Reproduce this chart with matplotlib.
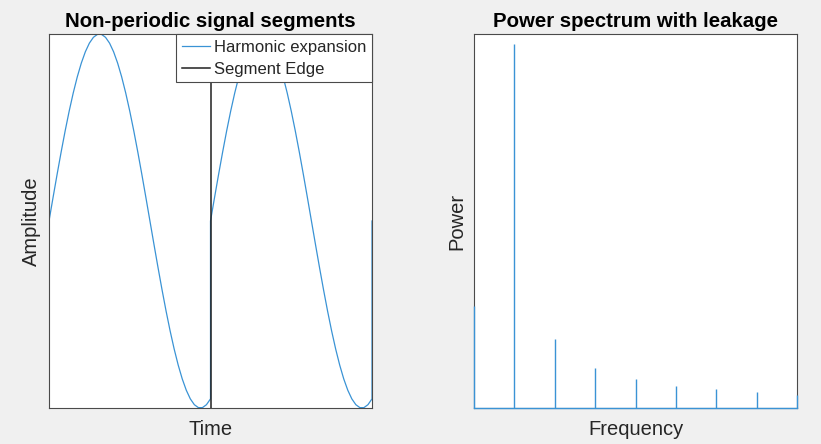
import numpy as np
import matplotlib
matplotlib.use("Agg")
import matplotlib.pyplot as plt

plt.rcParams['font.family'] = ['Liberation Sans', 'DejaVu Sans']

# ---- data ----
# one signal segment (0.8 cycles of the harmonic), sampled at 41 points over t in [0, 1]
segment_values = [0.0, 0.1253, 0.2487, 0.3681, 0.4818, 0.5878, 0.6845, 0.7705, 0.8443,
                  0.9048, 0.9511, 0.9823, 0.9980, 0.9980, 0.9823, 0.9511, 0.9048, 0.8443,
                  0.7705, 0.6845, 0.5878, 0.4818, 0.3681, 0.2487, 0.1253, 0.0, -0.1253,
                  -0.2487, -0.3681, -0.4818, -0.5878, -0.6845, -0.7705, -0.8443, -0.9048,
                  -0.9511, -0.9823, -0.9980, -0.9980, -0.9823, -0.9511]
n_segments = 2
segment_edges = [1.0]
next_segment_start = 0.0

freq_bins = [0, 1, 2, 3, 4, 5, 6, 7, 8]
power = [0.280, 1.000, 0.190, 0.111, 0.080, 0.061, 0.051, 0.043, 0.036]

titles = ["Non-periodic signal segments", "Power spectrum with leakage"]
xlabels = ["Time", "Frequency"]
ylabels = ["Amplitude", "Power"]
legend_labels = ["Harmonic expansion", "Segment Edge"]

# ---- build signal ----
seg_t = np.linspace(0.0, 1.0, len(segment_values))
t_all, y_all = [], []
for s in range(n_segments):
    t_all.extend(list(seg_t + s))
    y_all.extend(segment_values)
t_all.append(float(n_segments))
y_all.append(next_segment_start)

blue = '#3a93d5'
axcol = '#4a4a4a'
txtcol = '#262626'

fig = plt.figure(figsize=(8.21, 4.44), dpi=100, facecolor='#f0f0f0')
W, H = 821, 444
ax1 = fig.add_axes([49 / W, 1 - 408 / H, 323 / W, 374 / H])
ax2 = fig.add_axes([474 / W, 1 - 408 / H, 323 / W, 374 / H])

# left plot
l1, = ax1.plot(t_all, y_all, color=blue, lw=0.9, label=legend_labels[0], zorder=2)
l2 = None
for e in segment_edges:
    l2 = ax1.axvline(e, color='#202020', lw=1.1, label=legend_labels[1], zorder=3)
ax1.set_xlim(0, n_segments)
ax1.set_ylim(-1, 1)
leg = ax1.legend(handles=[l1, l2], loc='upper right', borderaxespad=0,
                 fontsize=12, frameon=True, fancybox=False, framealpha=1,
                 edgecolor=axcol, handlelength=1.65, handletextpad=0.25,
                 borderpad=0.35, labelspacing=0.4)
leg.get_frame().set_linewidth(0.8)
leg.set_zorder(5)
for txt in leg.get_texts():
    txt.set_color(txtcol)

# right plot
ax2.vlines(freq_bins, 0, power, color=blue, lw=1.0, clip_on=False, zorder=3)
ax2.plot([freq_bins[0], freq_bins[-1]], [0, 0], color=blue, lw=1.0, clip_on=False, zorder=3)
ax2.set_xlim(freq_bins[0], freq_bins[-1])
ax2.set_ylim(0, 1.028)

for ax, ti, xl, yl in zip([ax1, ax2], titles, xlabels, ylabels):
    ax.set_facecolor('white')
    ax.set_xticks([])
    ax.set_yticks([])
    for sp in ax.spines.values():
        sp.set_color(axcol)
        sp.set_linewidth(0.8)
    ax.set_title(ti, fontsize=14.7, fontweight='bold', color='black', pad=5)
    ax.set_xlabel(xl, fontsize=14.5, color=txtcol, labelpad=8.5)
    ax.set_ylabel(yl, fontsize=14.5, color=txtcol, labelpad=5.5)

fig.savefig('out.png', dpi=100, facecolor=fig.get_facecolor())
